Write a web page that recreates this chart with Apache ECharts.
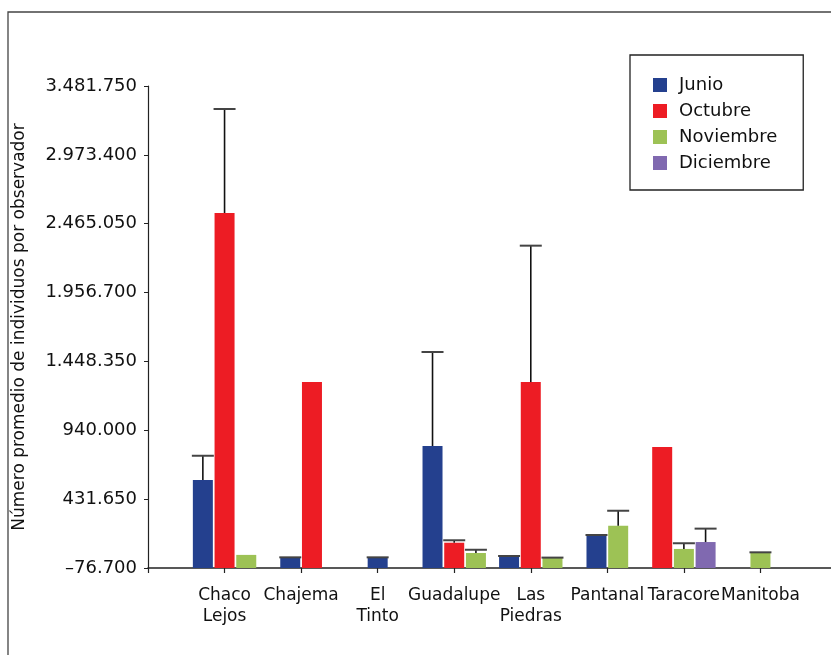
<!DOCTYPE html>
<html>
<head>
<meta charset="utf-8">
<script src="https://cdn.jsdelivr.net/npm/echarts@6/dist/echarts.min.js"></script>
<style>
html,body{margin:0;padding:0;background:#fff;}
#chart{width:831px;height:655px;}
</style>
</head>
<body>
<div id="chart"></div>
<script>
// ---- data ----
var categories = ['Chaco\nLejos', 'Chajema', 'El\nTinto', 'Guadalupe', 'Las\nPiedras', 'Pantanal', 'Taracore', 'Manitoba'];
var seriesNames = ['Junio', 'Octubre', 'Noviembre', 'Diciembre'];
var junio        = [573, 2, 2, 824, 6, 167, null, null];
var junioErr     = [179, 0, 0, 694, 6, 0, null, null];
var octubre      = [2544, 1296, null, 110, 1296, null, 817, null];
var octubreErr   = [768, null, null, 18, 1007, null, null, null];
var noviembre    = [20, null, null, 34, 0, 235, 64, 39];
var noviembreErr = [null, null, null, 24, 0, 111, 42, 0];
var diciembre    = [null, null, null, null, null, null, 115, null];
var diciembreErr = [null, null, null, null, null, null, 99, null];
var yMin = -76.7, yMax = 3481.75, yStep = 508.35;
var yTickLabels = ['\u201376.700', '431.650', '940.000', '1.448.350', '1.956.700', '2.465.050', '2.973.400', '3.481.750'];

// ---- build ----
var values = [junio, octubre, noviembre, diciembre];
var errors = [junioErr, octubreErr, noviembreErr, diciembreErr];
var colors = ['#24408E', '#ED1C24', '#9DC255', '#8069B0'];
var BW = 20, PITCH = 21.7;

function buildData(s) {
  var out = [];
  for (var i = 0; i < categories.length; i++) {
    var v = values[s][i];
    if (v === null) continue;
    var present = [];
    for (var k = 0; k < values.length; k++) if (values[k][i] !== null) present.push(k);
    var e = errors[s][i];
    out.push([i + 1, v - yMin, e === null ? null : v + e - yMin, present.indexOf(s), present.length]);
  }
  return out;
}

function renderItem(params, api) {
  var ci = api.value(0), v = api.value(1), top = api.value(2);
  var pos = api.value(3), n = api.value(4);
  var base = api.coord([ci, 0]);
  var pt = api.coord([ci, v]);
  var cx = base[0] + (pos - (n - 1) / 2) * PITCH;
  var children = [{
    type: 'rect',
    shape: { x: cx - BW / 2, y: pt[1], width: BW, height: base[1] - pt[1] },
    style: { fill: api.visual('color') }
  }];
  if (top !== null && !isNaN(top)) {
    var et = api.coord([ci, top]);
    if (et[1] < pt[1] - 0.5) {
      children.push({ type: 'line', shape: { x1: cx, y1: pt[1], x2: cx, y2: et[1] },
        style: { stroke: '#111', lineWidth: 1.6 } });
    }
    children.push({ type: 'line', shape: { x1: cx - 11, y1: et[1], x2: cx + 11, y2: et[1] },
      style: { stroke: '#444', lineWidth: 2 } });
  }
  return { type: 'group', children: children };
}

var series = seriesNames.map(function (name, s) {
  return {
    name: name,
    type: 'custom',
    renderItem: renderItem,
    itemStyle: { color: colors[s] },
    encode: { x: 0, y: 1 },
    data: buildData(s),
    z: 2 + s
  };
});

var chart = echarts.init(document.getElementById('chart'), null, { renderer: 'canvas' });
var FONT = 'DejaVu Sans';
chart.setOption({
  animation: false,
  backgroundColor: '#fff',
  textStyle: { fontFamily: FONT },
  grid: { left: 148, width: 689, top: 86, bottom: 87, containLabel: false, outerBoundsMode: 'none' },
  legend: {
    orient: 'vertical',
    left: 630, top: 55,
    padding: [21, 26, 18, 23],
    itemWidth: 14, itemHeight: 14, itemGap: 8,
    icon: 'rect',
    borderColor: '#222', borderWidth: 1.3,
    backgroundColor: '#fff',
    textStyle: { fontFamily: FONT, fontSize: 18, color: '#111', padding: [0, 0, 0, 7] },
    data: seriesNames
  },
  xAxis: {
    type: 'category',
    data: [''].concat(categories, ['']),
    boundaryGap: false,
    axisLine: { lineStyle: { color: '#222', width: 1.5 } },
    axisTick: { show: true, interval: 0, length: 5, lineStyle: { color: '#222', width: 1.2 } },
    axisLabel: { interval: 0, margin: 17, fontFamily: FONT, fontSize: 17, lineHeight: 21, color: '#111' },
    splitLine: { show: false }
  },
  yAxis: {
    type: 'value',
    min: 0, max: yMax - yMin, interval: yStep,
    name: 'Número promedio de individuos por observador',
    nameLocation: 'middle',
    nameGap: 120,
    nameRotate: 90,
    nameTextStyle: { fontFamily: FONT, fontSize: 17, color: '#111' },
    axisLine: { show: true, lineStyle: { color: '#222', width: 1.2 } },
    axisTick: { show: true, length: 4, lineStyle: { color: '#222' } },
    axisLabel: {
      margin: 11, fontFamily: FONT, fontSize: 18, color: '#111',
      formatter: function (v, idx) { return yTickLabels[Math.round(v / yStep)]; }
    },
    splitLine: { show: false }
  },
  graphic: [{
    type: 'polyline',
    silent: true,
    shape: { points: [[8, 655], [8, 12], [831, 12]] },
    style: { stroke: '#444', lineWidth: 1.3, fill: null }
  }],
  series: series
});
</script>
</body>
</html>
